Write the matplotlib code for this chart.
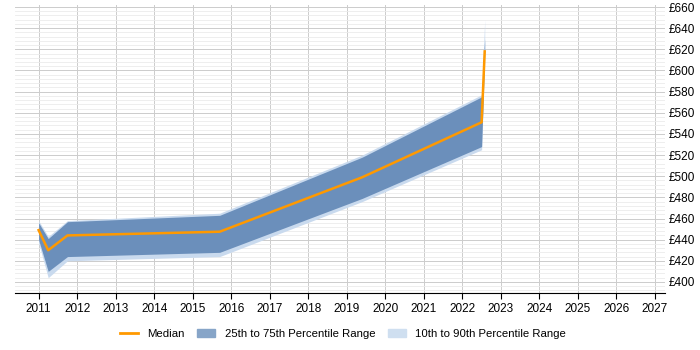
import matplotlib
matplotlib.use("Agg")
import matplotlib.pyplot as plt
from matplotlib.ticker import MultipleLocator, FuncFormatter
from matplotlib.patches import Patch
from matplotlib.lines import Line2D

plt.rcParams['font.family'] = ['Liberation Sans', 'DejaVu Sans']

# data
years = [2011.0, 2011.25, 2011.75, 2015.7, 2019.4, 2022.5, 2022.58]
p10 = [437, 404, 420, 424, 476, 525, 612]
p25 = [440, 410, 424, 428, 479, 528, 616]
median = [449, 430, 444, 447.5, 499, 551, 618]
p75 = [456, 441, 457, 463, 518, 575, 630]
p90 = [458, 443, 458, 465, 520, 577, 648]

fig = plt.figure(figsize=(7, 3.5), dpi=100)
ax = fig.add_axes([0.021, 0.163, 0.929, 0.823])

ax.fill_between(years, p10, p90, color='#c9daee', lw=0, zorder=2)
ax.fill_between(years, p25, p75, color='#6b8fbb', lw=0, zorder=3)
ax.plot(years, median, color='#ff9900', lw=1.8, zorder=4)

ax.set_xlim(2010.38, 2027.26)
ax.set_ylim(389.6, 662)
ax.set_xticks(range(2011, 2028))
ax.yaxis.set_major_locator(MultipleLocator(20))
ax.yaxis.set_minor_locator(MultipleLocator(4))
ax.yaxis.set_major_formatter(FuncFormatter(lambda v, p: '£%d' % v))
ax.yaxis.tick_right()
ax.tick_params(axis='y', which='both', length=0, labelsize=8.5, pad=3)
ax.tick_params(axis='x', length=4, labelsize=8.5, color='black')

ax.grid(True, which='major', axis='both', color='#cccccc', lw=0.7, zorder=0)
ax.grid(True, which='minor', axis='y', color='#ebebeb', lw=0.6, zorder=0)
ax.set_axisbelow(True)
for s in ['left', 'right', 'top']:
    ax.spines[s].set_visible(False)
ax.spines['bottom'].set_color('black')

handles = [Line2D([0], [0], color='#ff9900', lw=2),
           Patch(color='#87a5c8'),
           Patch(color='#cfdff0')]
labels = ['Median', '25th to 75th Percentile Range', '10th to 90th Percentile Range']
fig.legend(handles, labels, loc='center', bbox_to_anchor=(0.49, 0.047), ncol=3,
           frameon=False, fontsize=8.2, handlelength=1.6, columnspacing=1.1)

fig.savefig('out.png', dpi=100)
